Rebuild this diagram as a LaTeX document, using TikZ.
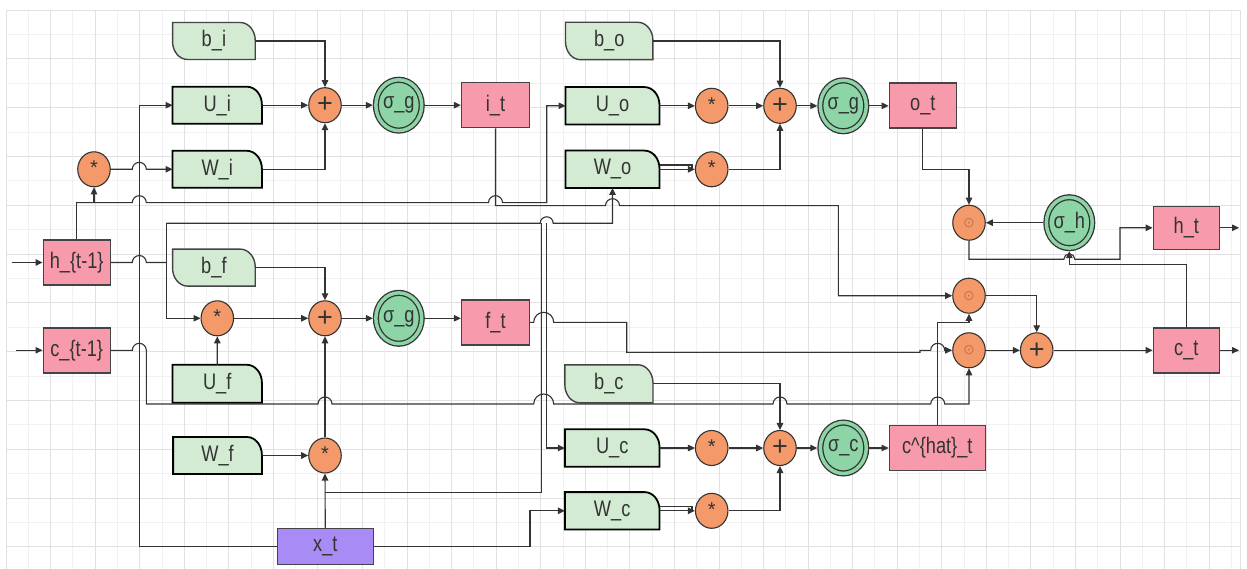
\documentclass[tikz,border=0pt]{standalone}
\usepackage{fontspec}
\setmainfont{Liberation Sans}
\newfontfamily\lblfont{Liberation Sans}[FakeStretch=0.81]
\newfontfamily\plainfont{Liberation Sans}
\newfontfamily\dejavu{DejaVu Sans}
\usetikzlibrary{shapes.geometric,arrows.meta}
\definecolor{pinkc}{HTML}{F79AAB}
\definecolor{greenc}{HTML}{D3EBD2}
\definecolor{sgreen}{HTML}{8DD4A6}
\definecolor{orangec}{HTML}{F3996A}
\definecolor{purplec}{HTML}{A98BF6}
\definecolor{linec}{HTML}{333333}
\definecolor{boxline}{HTML}{444444}
\definecolor{textc}{HTML}{333333}
\definecolor{odotc}{HTML}{C47550}
\definecolor{gmaj}{HTML}{E1E1E1}
\definecolor{gmin}{HTML}{F1F1F1}
\pgfdeclarelayer{grid}
\pgfdeclarelayer{shapes}
\pgfsetlayers{grid,shapes,main}
\newcommand\ushape[1]{\path[ubox] (#1.south west) -- (#1.north west) -- ([xshift=-15pt]#1.north east) arc[start angle=90,end angle=0,x radius=15pt,y radius=18pt] -- (#1.south east) -- cycle;}
\newcommand\bshape[1]{\path[bbox] ([yshift=18pt]#1.south west) -- (#1.north west) -- ([xshift=-15pt]#1.north east) arc[start angle=90,end angle=0,x radius=15pt,y radius=18pt] -- (#1.south east) -- ([xshift=15pt]#1.south west) arc[start angle=270,end angle=180,x radius=15pt,y radius=18pt] -- cycle;}
\newcommand\opstar{\plainfont\fontsize{20}{24}\selectfont\raisebox{3pt}{*}}
\newcommand\opplus{\plainfont\fontsize{27}{30}\selectfont +}
\newcommand\opdot{\dejavu\fontsize{14}{16}\selectfont\color{odotc}⊙}
\tikzset{
  lbl/.style={font=\lblfont\fontsize{22.5}{26}\selectfont, text=textc},
  pinkbox/.style={lbl, rectangle, draw=boxline, line width=1.4pt, fill=pinkc, inner sep=0pt},
  purplebox/.style={pinkbox, fill=purplec},
  dnode/.style={lbl, rectangle, inner sep=0pt, minimum width=89pt, minimum height=36.6pt},
  ubox/.style={draw=black, line width=1.8pt, fill=greenc},
  bbox/.style={draw=boxline, line width=1.4pt, fill=greenc},
  opc/.style={ellipse, text=textc, draw=linec, line width=1.1pt, fill=orangec, minimum width=32.5pt, minimum height=35pt, inner sep=0pt},
  sig/.style={lbl, ellipse, draw=linec, line width=1.3pt, double=sgreen, double distance=3.5pt, fill=sgreen, minimum width=45.9pt, minimum height=50.9pt, inner sep=0pt, outer sep=3.05pt},
  conn/.style={draw=linec, line width=1.1pt},
  arr/.style={conn, -{Triangle[length=7pt,width=6.5pt]}},
  gridmaj/.style={draw=gmaj, line width=0.9pt},
  gridmin/.style={draw=gmin, line width=0.9pt}
}
\begin{document}
\begin{tikzpicture}[x=1pt,y=-1pt]
\useasboundingbox (0,0) rectangle (1247,569);
\begin{pgfonlayer}{grid}
\fill[white] (0,0) rectangle (1247,569);
\foreach \i in {1,3,...,55}{\pgfmathsetmacro\gx{6+22.28*\i}\draw[gridmin] (\gx,10) -- (\gx,569);}
\foreach \j in {1,3,...,23}{\pgfmathsetmacro\gy{10+24.4*\j}\draw[gridmin] (6,\gy) -- (1240,\gy);}
\foreach \i in {0,2,...,54}{\pgfmathsetmacro\gx{6+22.28*\i}\draw[gridmaj] (\gx,10) -- (\gx,569);}
\foreach \j in {0,2,...,22}{\pgfmathsetmacro\gy{10+24.4*\j}\draw[gridmaj] (6,\gy) -- (1240,\gy);}
\draw[gridmaj] (1240,10) -- (1240,569);
\end{pgfonlayer}

% pink boxes
\node[pinkbox, minimum width=67pt, minimum height=45pt] (h1) at (76.7,262.5) {h\_\{t-1\}};
\node[pinkbox, minimum width=67pt, minimum height=45pt] (c1) at (76.7,350.3) {c\_\{t-1\}};
\node[pinkbox, minimum width=68pt, minimum height=45pt] (it) at (495.5,105.3) {i\_t};
\node[pinkbox, minimum width=68pt, minimum height=45pt] (ft) at (495.5,322.3) {f\_t};
\node[pinkbox, minimum width=67pt, minimum height=45pt] (ot) at (922.8,105.5) {o\_t};
\node[pinkbox, minimum width=66pt, minimum height=43pt] (ht) at (1186.3,227.8) {h\_t};
\node[pinkbox, minimum width=66pt, minimum height=45pt] (ct) at (1186.3,350.3) {c\_t};
\node[pinkbox, minimum width=96pt, minimum height=45pt] (chat) at (937.3,448) {c\textasciicircum\{hat\}\_t};
\node[purplebox, minimum width=96pt, minimum height=36pt] (xt) at (325.3,546.7) {x\_t};

% data nodes
\node[dnode, minimum width=82.3pt] (bi) at (213.9,41) {b\_i};
\node[dnode] (Ui) at (217.2,105.2) {U\_i};
\node[dnode] (Wi) at (217.2,169.3) {W\_i};
\node[dnode, minimum width=87pt, minimum height=37pt] (bo) at (609.2,41) {b\_o};
\node[dnode, minimum width=93.6pt, minimum height=37pt] (Uo) at (612.5,105.8) {U\_o};
\node[dnode, minimum width=93.6pt, minimum height=37pt] (Wo) at (612.5,169.3) {W\_o};
\node[dnode, minimum width=82.3pt] (bf) at (213.9,267.6) {b\_f};
\node[dnode, minimum height=37.6pt] (Uf) at (217.2,383.8) {U\_f};
\node[dnode, minimum width=88.4pt] (Wf) at (217.5,455.5) {W\_f};
\node[dnode, minimum width=87.7pt, minimum height=37.6pt] (bc) at (608.9,383.8) {b\_c};
\node[dnode, minimum width=94.3pt, minimum height=37pt] (Uc) at (612.2,448) {U\_c};
\node[dnode, minimum width=94.3pt, minimum height=37pt] (Wc) at (612.2,510.8) {W\_c};

% operators
\node[opc] (mh) at (94,169.3) {\opstar};
\node[opc] (pi) at (325,105.2) {\opplus};
\node[opc] (mUo) at (711.7,105.8) {\opstar};
\node[opc] (mWo) at (711.7,169.3) {\opstar};
\node[opc] (po) at (780,105.8) {\opplus};
\node[opc] (mf) at (217.3,318.3) {\opstar};
\node[opc] (pf) at (325,318.3) {\opplus};
\node[opc] (mWf) at (325,455.5) {\opstar};
\node[opc] (mUc) at (711.7,448) {\opstar};
\node[opc] (mWc) at (711.7,510.8) {\opstar};
\node[opc] (pc) at (780,448) {\opplus};
\node[opc] (o1) at (969,222.7) {\opdot};
\node[opc] (o2) at (969,295.7) {\opdot};
\node[opc] (o3) at (969,350.3) {\opdot};
\node[opc] (pct) at (1036.7,350.3) {\opplus};

% activations
\node[sig] (sgi) at (398.8,105.2) {\makebox[0pt]{σ\_g}};
\node[sig] (sgf) at (398.8,318.3) {\makebox[0pt]{σ\_g}};
\node[sig] (sgo) at (843.3,105.8) {\makebox[0pt]{σ\_g}};
\node[sig] (sc) at (843.3,448) {\makebox[0pt]{σ\_c}};
\node[sig] (sh) at (1069.3,222.7) {\makebox[0pt]{σ\_h}};

\begin{pgfonlayer}{shapes}
\foreach \n in {Ui,Wi,Uo,Wo,Uf,Wf,Uc,Wc} {\ushape{\n}}
\foreach \n in {bi,bo,bf,bc} {\bshape{\n}}
\end{pgfonlayer}

\coordinate (hin) at (12,262.5);
\coordinate (cin) at (16,350.3);
\coordinate (htout) at (1239,227.8);
\coordinate (ctout) at (1239,350.3);

% inputs
\draw[arr] (hin) -- (h1.west);
\draw[arr] (cin) -- (c1.west);

% h_{t-1} top branch
\draw[arr] (h1.north) -- (h1.north |- 0,202.7) -| (mh.south);
\draw[arr] (h1.north |- 0,202.7) -- (132.3,202.7) arc[start angle=180,end angle=0,radius=7pt] -- (488.5,202.7) arc[start angle=180,end angle=0,radius=7pt] -- (546.7,202.7) |- (Uo.west);
% h_{t-1} right branch
\draw[conn] (h1.east) -- (132.3,262.5) arc[start angle=180,end angle=0,radius=7pt] -- (166.7,262.5);
\draw[arr] (166.7,223.3) |- (mf.west);
\draw[arr] (166.7,223.3) -- (540.2,223.3) arc[start angle=180,end angle=0,radius=6.5pt] -- (553.2,223.3) -| (Wo.south);
\draw[arr] (546.7,223.3) |- (Uc.west);
\draw[conn] (541.7,223.3) -- (541.7,492.7) -- (325,492.7);

% i gate
\draw[arr] (mh.east) -- (132.3,169.3) arc[start angle=180,end angle=0,radius=7pt] -- (Wi.west);
\draw[arr] (bi.east) -| (pi.north);
\draw[arr] (Ui.east) -- (pi.west);
\draw[arr] (Wi.east) -| (pi.south);
\draw[arr] (pi.east) -- (sgi.west);
\draw[arr] (sgi.east) -- (it.west |- sgi.east);
\draw[arr] (it.south) -- (495.5,205.7) -- (605.5,205.7) arc[start angle=180,end angle=0,radius=7pt] -- (838.3,205.7) |- (o2.west);

% x_t
\draw[arr] (xt.north) -- (mWf.south);
\draw[arr] (xt.west) -- (139.3,546.7) |- (Ui.west);
\draw[arr] (xt.east) -- (530,546.7) |- (Wc.west);

% f gate
\draw[arr] (Wf.east) -- (mWf.west);
\draw[arr] (mWf.north) -- (pf.south);
\draw[arr] (Uf.north) -- (mf.south);
\draw[arr] (mf.east) -- (pf.west);
\draw[arr] (bf.east) -| (pf.north);
\draw[arr] (pf.east) -- (sgf.west);
\draw[arr] (sgf.east) -- (ft.west |- sgf.east);
\draw[arr] (ft.east) -- (533.7,322.3) arc[start angle=180,end angle=0,radius=10pt] -- (626.7,322.3) -- (626.7,352.3) -- (920,352.3) -- (920,350.3) -- (930.7,350.3) arc[start angle=180,end angle=0,radius=7pt] -- (o3.west);

% c_{t-1}
\draw[arr] (c1.east) -- (132.3,350.3) arc[start angle=180,end angle=0,radius=7pt] -- (146.3,404) -- (318,404) arc[start angle=180,end angle=0,radius=7pt] -- (533.7,404) arc[start angle=180,end angle=0,radius=10pt] -- (773,404) arc[start angle=180,end angle=0,radius=7pt] -- (930.7,404) arc[start angle=180,end angle=0,radius=7pt] -| (o3.south);

% o gate
\draw[arr] (bo.east) -| (po.north);
\draw[arr] (Uo.east) -- (mUo.west);
\draw[arr] (mUo.east) -- (po.west);
\draw[conn] (Wo.east |- 0,165) -- (692,165) -- (692,169.3);
\draw[arr] (Wo.east) -- (mWo.west);
\draw[arr] (mWo.east) -| (po.south);
\draw[arr] (po.east) -- (sgo.west);
\draw[arr] (sgo.east) -- (ot.west |- sgo.east);
\draw[arr] (ot.south) -- (ot.south |- 0,169.3) -| (o1.north);

% c gate
\draw[arr] (bc.east) -| (pc.north);
\draw[arr] (Uc.east) -- (mUc.west);
\draw[arr] (mUc.east) -- (pc.west);
\draw[conn] (Wc.east |- 0,506.7) -- (692,506.7) -- (692,510.8);
\draw[arr] (Wc.east) -- (mWc.west);
\draw[arr] (mWc.east) -| (pc.south);
\draw[arr] (pc.east) -- (sc.west);
\draw[arr] (sc.east) -- (chat.west);
\draw[arr] (chat.north) -- (chat.north |- 0,322.3) -| (o2.south);

% cell and hidden output
\draw[arr] (o2.east) -| (pct.north);
\draw[arr] (o3.east) -- (pct.west);
\draw[arr] (pct.east) -- (ct.west);
\draw[arr] (ct.east) -- (ctout);
\draw[arr] (ct.north) -- (ct.north |- 0,264.3) -| (sh.south);
\draw[arr] (sh.west) -- (o1.east);
\draw[arr] (o1.south) -- (969,259.3) -- (1063.8,259.3) arc[start angle=180,end angle=0,radius=5.5pt] -- (1120,259.3) |- (ht.west);
\draw[arr] (ht.east) -- (htout);
\end{tikzpicture}
\end{document}
